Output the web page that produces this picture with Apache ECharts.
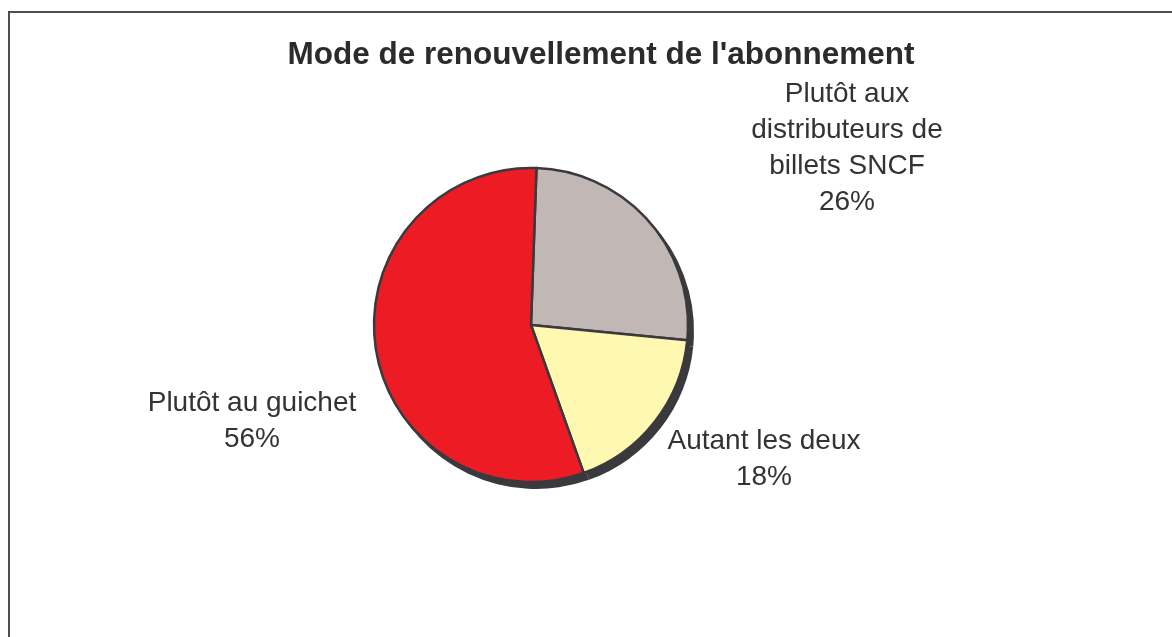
<!DOCTYPE html>
<html>
<head>
<meta charset="utf-8">
<script src="https://cdn.jsdelivr.net/npm/echarts@6/dist/echarts.min.js"></script>
<style>
  html, body { margin: 0; padding: 0; background: #fff; }
  #frame { position: absolute; left: 8px; top: 11px; width: 1164px; height: 626px; border-left: 2px solid #4d4d4d; border-top: 2px solid #4d4d4d; box-sizing: border-box; }
  #chart { position: absolute; left: 0; top: 0; width: 1172px; height: 637px; }
</style>
</head>
<body>
<div id="frame"></div>
<div id="chart"></div>
<script>
const title = "Mode de renouvellement de l'abonnement";
const categories = ["Plutôt aux\ndistributeurs de\nbillets SNCF", "Autant les deux", "Plutôt au guichet"];
const values = [26, 18, 56];
const colors = ['#c1b8b5', '#fff8b0', '#ed1c24'];
const labelPos = [[847, 148], [764, 459], [252, 421]];

const chart = echarts.init(document.getElementById('chart'), null, { renderer: 'canvas' });
const data = categories.map((c, i) => ({ name: c, value: values[i], itemStyle: { color: colors[i] } }));

chart.setOption({
  animation: false,
  title: {
    text: title,
    left: 596, top: 50, textAlign: 'center', textVerticalAlign: 'middle',
    textStyle: { fontFamily: 'Liberation Sans, Arial, sans-serif', fontSize: 31.5, fontWeight: 'bold', color: '#2b2b2b' }
  },
  series: [
    {
      type: 'pie', silent: true, z: 1,
      center: [536, 331], radius: 158,
      startAngle: 88, clockwise: true,
      label: { show: false }, labelLine: { show: false },
      itemStyle: { color: '#3a393e', borderWidth: 0 },
      data: values.map((v, i) => ({ name: 's' + i, value: v }))
    },
    {
      type: 'pie', z: 2,
      center: [531, 325], radius: 157,
      startAngle: 88, clockwise: true,
      itemStyle: { borderColor: '#3a393e', borderWidth: 2.5 },
      label: {
        show: true, position: 'outside',
        formatter: p => p.name + '\n' + p.value + '%',
        fontFamily: 'Liberation Sans, Arial, sans-serif', fontSize: 28, lineHeight: 36,
        color: '#333', align: 'center'
      },
      labelLine: { show: false },
      labelLayout: p => ({ x: labelPos[p.dataIndex][0], y: labelPos[p.dataIndex][1], align: 'center', verticalAlign: 'middle' }),
      emphasis: { disabled: true },
      data: data
    }
  ]
});
</script>
</body>
</html>
